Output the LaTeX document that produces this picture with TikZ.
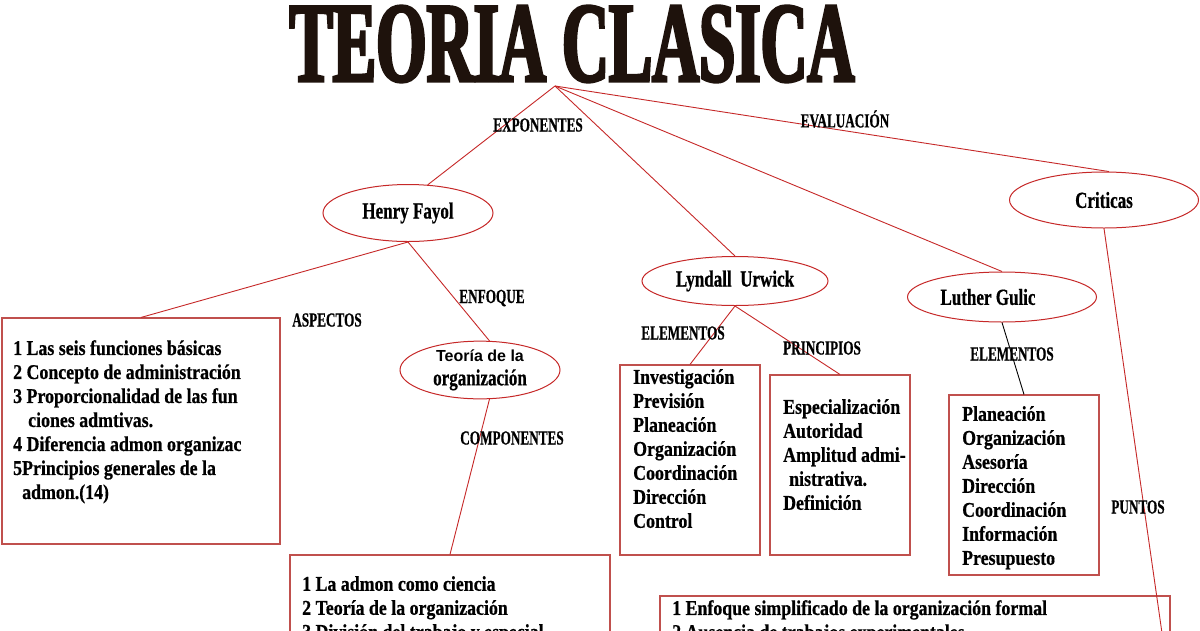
\documentclass[tikz,border=0pt]{standalone}
\usepackage{fontspec}
\setmainfont{Liberation Serif}
\newfontfamily\condfont[FakeStretch=0.85, FakeBold=0.6]{Liberation Serif}
\newfontfamily\ovalfont[FakeStretch=0.74, FakeBold=0.6]{Liberation Serif}
\newfontfamily\tagfont[FakeStretch=0.66, FakeBold=0.6]{Liberation Serif}
\newfontfamily\titlefont[FakeStretch=0.57, FakeBold=2.5]{Liberation Serif}
\newfontfamily\roundfont{Liberation Sans}
\usetikzlibrary{shapes.geometric, positioning}

\definecolor{linered}{HTML}{C62828}
\definecolor{boxred}{HTML}{C0504D}
\definecolor{titlebrown}{HTML}{1E120C}

\begin{document}
\begin{tikzpicture}[x=1pt, y=-1pt,
		link/.style={draw=linered, line width=0.9pt},
		oval/.style={draw=linered, ellipse, line width=1pt, inner sep=0pt, font=\ovalfont\bfseries\fontsize{23}{26}\selectfont},
		listbox/.style={draw=boxred, line width=1.1pt, inner sep=0pt},
		listtext/.style={anchor=north west, align=left, inner sep=0pt, font=\condfont\bfseries\fontsize{21}{24}\selectfont},
		tag/.style={inner sep=0pt, font=\tagfont\bfseries\fontsize{20}{22}\selectfont}]
	\useasboundingbox (0,0) rectangle (1200,630);
	\clip (0,0) rectangle (1200,630);
	\fill[white] (0,0) rectangle (1200,630);
	
	% Titulo
	\node[inner sep=0pt, text=titlebrown, font=\titlefont\bfseries\fontsize{114}{114}\selectfont] (title) at (572,44) {TEORIA CLASICA};
	\coordinate (hub) at (555,86);
	
	% Exponentes
	\node[oval, minimum width=170, minimum height=57] (fayol) at (408,213) {Henry Fayol};
	\node[oval, minimum width=186, minimum height=49] (urwick) at (735,281) {Lyndall\ \ Urwick};
	\node[oval, minimum width=189, minimum height=50] (gulic) at (1002,297) {Luther Gulic\hspace*{28pt}};
	\node[oval, minimum width=189, minimum height=56] (criticas) at (1104,200) {Criticas};
	\node[oval, minimum width=160, minimum height=50, align=center] (teoria) at (480,370)
		{{\roundfont\bfseries\fontsize{16}{18}\selectfont Teoría de la}\\[-2pt]organización};
	
	% Cajas
	\node[listbox, minimum width=278, minimum height=226] (aspbox) at (141,431) {};
	\node[listtext] at (13,340) {1 Las seis funciones básicas\\2 Concepto de administración\\3 Proporcionalidad de las fun\\\hspace*{15pt}ciones admtivas.\\4 Diferencia admon organizac\\5Principios generales de la\\\hspace*{9pt}admon.(14)};
	\node[listbox, minimum width=320, minimum height=160] (compbox) at (450,635) {};
	\node[listtext] at (302,576) {1 La admon como ciencia\\2 Teoría de la organización\\3 División del trabajo y especial};
	\node[listbox, minimum width=140, minimum height=190] (elembox) at (690,460) {};
	\node[listtext] at (633,369) {Investigación\\Previsión\\Planeación\\Organización\\Coordinación\\Dirección\\Control};
	\node[listbox, minimum width=140, minimum height=180] (princbox) at (840,465) {};
	\node[listtext] at (783,399) {Especialización\\Autoridad\\Amplitud admi-\\\hspace*{6pt}nistrativa.\\Definición};
	\node[listbox, minimum width=150, minimum height=180] (gulbox) at (1024,485) {};
	\node[listtext] at (962,406) {Planeación\\Organización\\Asesoría\\Dirección\\Coordinación\\Información\\Presupuesto};
	\node[listbox, minimum width=510, minimum height=120] (critbox) at (915,656) {};
	\node[listtext] at (672,600) {1 Enfoque simplificado de la organización formal\\2 Ausencia de trabajos experimentales};
	\coordinate (critend) at (1163,640);
	
	% Conectores
	\draw[link] (hub) -- (fayol.55);
	\draw[link] (hub) -- (urwick.north);
	\draw[link] (hub) -- (gulic.north);
	\draw[link] (hub) -- (criticas.80);
	\draw[link] (fayol.south) -- (aspbox.north);
	\draw[link] (fayol.south) -- (teoria.72);
	\draw[link] (teoria.-72) -- (compbox.north);
	\draw[link] (urwick.south) -- (elembox.north);
	\draw[link] (urwick.south) -- (princbox.north);
	\draw[line width=0.9pt] (gulic.south) -- (gulbox.north);
	\draw[link] (criticas.south) -- (critend);
	
	% Etiquetas
	\node[tag] (exp) at (538,125) {EXPONENTES};
	\node[tag] (eval) at (845,119) {EVALUACIÓN};
	\node[tag] (asp) at (327,320) {ASPECTOS};
	\node[tag] (enf) at (492,298) {ENFOQUE};
	\node[tag] (comp) at (512,438) {COMPONENTES};
	\node[tag] (elem) at (683,333) {ELEMENTOS};
	\node[tag] (princ) at (822,348) {PRINCIPIOS};
	\node[tag] (elemg) at (1012,354) {ELEMENTOS};
	\node[tag] (pts) at (1138,507) {PUNTOS};
\end{tikzpicture}
\end{document}
